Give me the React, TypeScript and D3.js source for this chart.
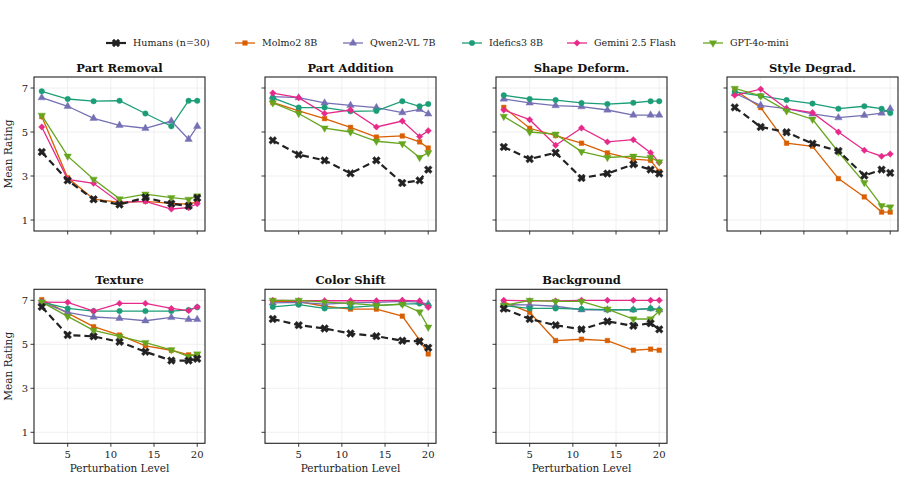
import React from 'react';
import * as d3 from 'd3';

const levels = [2, 5, 8, 11, 14, 17, 19, 20];
const yTicks = [1, 3, 5, 7];
const xTicks = [5, 10, 15, 20];

const panelTitles = ['Part Removal', 'Part Addition', 'Shape Deform.', 'Style Degrad.', 'Texture', 'Color Shift', 'Background'];

const seriesNames = ['Humans (n=30)', 'Molmo2 8B', 'Qwen2-VL 7B', 'Idefics3 8B', 'Gemini 2.5 Flash', 'GPT-4o-mini'];
const seriesColors = ['#222222', '#d95f02', '#7570b3', '#1b9e77', '#e7298a', '#66a61e'];
const seriesMarkers = ['x', 'square', 'up', 'circle', 'diamond', 'down'];

// values per panel, one row per series (same order as seriesNames)
const partRemoval = [
  [4.09, 2.8, 1.94, 1.7, 2.02, 1.74, 1.64, 2.0],
  [5.7, 2.92, 1.95, 1.8, 1.85, 1.76, 1.72, 1.84],
  [6.56, 6.17, 5.62, 5.3, 5.17, 5.5, 4.67, 5.26],
  [6.85, 6.5, 6.4, 6.42, 5.84, 5.26, 6.42, 6.42],
  [5.23, 2.85, 2.67, 1.8, 1.85, 1.5, 1.56, 1.74],
  [5.76, 3.9, 2.85, 1.96, 2.18, 2.02, 1.94, 2.09],
];
const partAddition = [
  [4.62, 3.97, 3.71, 3.12, 3.71, 2.68, 2.8, 3.29],
  [6.35, 5.96, 5.61, 5.21, 4.77, 4.82, 4.55, 4.27],
  [6.61, 6.56, 6.32, 6.21, 6.11, 5.88, 6.03, 5.82],
  [6.55, 6.11, 6.11, 5.94, 5.96, 6.4, 6.17, 6.27],
  [6.77, 6.56, 5.84, 6.0, 5.23, 5.5, 4.79, 5.06],
  [6.32, 5.84, 5.18, 5.0, 4.58, 4.47, 3.84, 4.06],
];
const shapeDeform = [
  [4.32, 3.77, 4.06, 2.91, 3.11, 3.53, 3.29, 3.11],
  [6.12, 5.17, 4.84, 4.49, 4.05, 3.77, 3.71, 3.21],
  [6.5, 6.32, 6.2, 6.15, 6.0, 5.77, 5.77, 5.77],
  [6.67, 6.5, 6.45, 6.32, 6.27, 6.33, 6.4, 6.4],
  [6.0, 5.56, 4.4, 5.18, 4.55, 4.65, 4.06, 3.61],
  [5.71, 5.0, 4.9, 4.11, 3.84, 3.9, 3.84, 3.64],
];
const styleDegrad = [
  [6.12, 5.23, 4.99, 4.47, 4.14, 3.02, 3.29, 3.14],
  [6.91, 6.11, 4.49, 4.35, 2.88, 2.05, 1.36, 1.36],
  [6.76, 6.21, 6.06, 5.82, 5.65, 5.76, 5.86, 6.06],
  [6.82, 6.64, 6.45, 6.29, 6.06, 6.17, 6.06, 5.86],
  [6.67, 6.95, 6.06, 5.88, 5.0, 4.17, 3.9, 4.0],
  [6.98, 6.64, 5.96, 5.58, 4.09, 2.7, 1.65, 1.59],
];
const texture = [
  [6.7, 5.42, 5.36, 5.11, 4.66, 4.26, 4.26, 4.34],
  [7.03, 6.42, 5.8, 5.42, 4.93, 4.73, 4.52, 4.49],
  [6.91, 6.45, 6.24, 6.18, 6.07, 6.22, 6.13, 6.13],
  [6.92, 6.63, 6.51, 6.51, 6.51, 6.51, 6.56, 6.68],
  [6.92, 6.91, 6.51, 6.86, 6.86, 6.63, 6.53, 6.7],
  [6.92, 6.27, 5.63, 5.36, 5.08, 4.75, 4.44, 4.56],
];
const colorShift = [
  [6.15, 5.87, 5.72, 5.49, 5.37, 5.16, 5.13, 4.84],
  [6.95, 6.94, 6.73, 6.6, 6.6, 6.28, 5.19, 4.56],
  [6.88, 6.91, 6.83, 6.88, 6.91, 6.95, 6.92, 6.83],
  [6.7, 6.8, 6.63, 6.68, 6.76, 6.83, 6.85, 6.76],
  [7.0, 6.98, 6.98, 6.98, 6.98, 7.0, 6.97, 6.68],
  [7.0, 7.0, 6.92, 6.86, 6.77, 6.82, 6.47, 5.78],
];
const background = [
  [6.62, 6.15, 5.87, 5.68, 6.04, 5.84, 5.96, 5.68],
  [6.92, 6.45, 5.17, 5.23, 5.17, 4.73, 4.78, 4.73],
  [6.8, 6.79, 6.73, 6.57, 6.57, 6.57, 6.62, 6.57],
  [6.76, 6.63, 6.63, 6.6, 6.57, 6.57, 6.63, 6.56],
  [7.0, 6.97, 6.97, 7.0, 7.0, 7.0, 7.0, 7.0],
  [6.76, 7.0, 6.95, 6.95, 6.6, 6.15, 6.15, 6.51],
];
const panelData = [partRemoval, partAddition, shapeDeform, styleDegrad, texture, colorShift, background];

const W = 906;
const H = 479;
const panelLefts = [34, 265, 496, 727];
const panelTops = [77, 289.3];
const panelW = 171;
const panelH = 154;
const font = 'DejaVu Serif, Liberation Serif, serif';

const xScale = d3.scaleLinear().domain([1.1, 20.9]).range([0, panelW]);
const yScale = d3.scaleLinear().domain([0.5, 7.5]).range([panelH, 0]);

const markerPath = (kind: string, size: number) => {
  if (kind === 'x') return d3.symbol(d3.symbolCross, size * 1.5)() || '';
  if (kind === 'square') return d3.symbol(d3.symbolSquare, size * 0.9)() || '';
  if (kind === 'circle') return d3.symbol(d3.symbolCircle, size)() || '';
  if (kind === 'diamond') return d3.symbol(d3.symbolDiamond2, size * 1.1)() || '';
  return d3.symbol(d3.symbolTriangle, size)() || '';
};
const markerRotate = (kind: string) => (kind === 'x' ? 45 : kind === 'down' ? 180 : 0);

const Marker: React.FC<{ kind: string; color: string; x: number; y: number; size?: number }> = ({ kind, color, x, y, size = 24 }) => (
  <path
    d={markerPath(kind, size)}
    transform={`translate(${x},${y}) rotate(${markerRotate(kind)})`}
    fill={color}
    stroke={color}
    strokeOpacity={0.5}
    strokeWidth={0.8}
  />
);

const line = d3.line<number>().x((_, i) => xScale(levels[i])).y(d => yScale(d));

const Panel: React.FC<{ idx: number }> = ({ idx }) => {
  const row = idx < 4 ? 0 : 1;
  const col = idx % 4;
  const left = panelLefts[col];
  const top = panelTops[row];
  const data = panelData[idx];
  const order = [1, 2, 3, 4, 5, 0];
  return (
    <g transform={`translate(${left},${top})`}>
      {xTicks.map(t => (
        <line key={'gx' + t} x1={xScale(t)} x2={xScale(t)} y1={0} y2={panelH} stroke="#ececec" strokeWidth={0.8} />
      ))}
      {yTicks.map(t => (
        <line key={'gy' + t} x1={0} x2={panelW} y1={yScale(t)} y2={yScale(t)} stroke="#ececec" strokeWidth={0.8} />
      ))}
      {order.map(s => (
        <g key={s}>
          <path
            d={line(data[s]) || ''}
            fill="none"
            stroke={seriesColors[s]}
            strokeWidth={s === 0 ? 2.2 : 1.3}
            strokeDasharray={s === 0 ? '7,4' : undefined}
          />
          {data[s].map((v, i) => (
            <Marker key={i} kind={seriesMarkers[s]} color={seriesColors[s]} x={xScale(levels[i])} y={yScale(v)} size={s === 0 ? 26 : 24} />
          ))}
        </g>
      ))}
      <rect x={0} y={0} width={panelW} height={panelH} fill="none" stroke="#222" strokeWidth={1.1} />
      {xTicks.map(t => (
        <g key={'tx' + t}>
          <line x1={xScale(t)} x2={xScale(t)} y1={panelH} y2={panelH + 3.5} stroke="#222" strokeWidth={0.9} />
          {row === 1 && (
            <text x={xScale(t)} y={panelH + 15} textAnchor="middle" fontSize={10} fontFamily={font} fill="#222">{t}</text>
          )}
        </g>
      ))}
      {yTicks.map(t => (
        <g key={'ty' + t}>
          <line x1={-3.5} x2={0} y1={yScale(t)} y2={yScale(t)} stroke="#222" strokeWidth={0.9} />
          {col === 0 && (
            <text x={-6} y={yScale(t)} dy="0.35em" textAnchor="end" fontSize={10} fontFamily={font} fill="#222">{t}</text>
          )}
        </g>
      ))}
      <text x={panelW / 2} y={-5} textAnchor="middle" fontSize={11.5} fontWeight="bold" fontFamily={font} fill="#111">{panelTitles[idx]}</text>
      {row === 1 && (
        <text x={panelW / 2} y={panelH + 29} textAnchor="middle" fontSize={10.5} fontFamily={font} fill="#222">Perturbation Level</text>
      )}
      {col === 0 && (
        <text transform={`translate(-22,${panelH / 2}) rotate(-90)`} textAnchor="middle" fontSize={10.5} fontFamily={font} fill="#222">Mean Rating</text>
      )}
    </g>
  );
};

const legendX = [106, 235, 343, 462, 567, 703];

export default function App() {
  return (
    <svg width={W} height={H} style={{ position: 'absolute', left: 0, top: 0, background: '#fff' }}>
      {seriesNames.map((name, s) => (
        <g key={name} transform={`translate(${legendX[s]},43)`}>
          <line x1={0} x2={20} y1={0} y2={0} stroke={seriesColors[s]} strokeWidth={s === 0 ? 2.2 : 1.3} />
          <Marker kind={seriesMarkers[s]} color={seriesColors[s]} x={10} y={0} size={s === 0 ? 26 : 24} />
          <text x={27} y={0} dy="0.35em" fontSize={9.5} fontFamily={font} fill="#222">{name}</text>
        </g>
      ))}
      {panelTitles.map((_, i) => <Panel key={i} idx={i} />)}
    </svg>
  );
}
